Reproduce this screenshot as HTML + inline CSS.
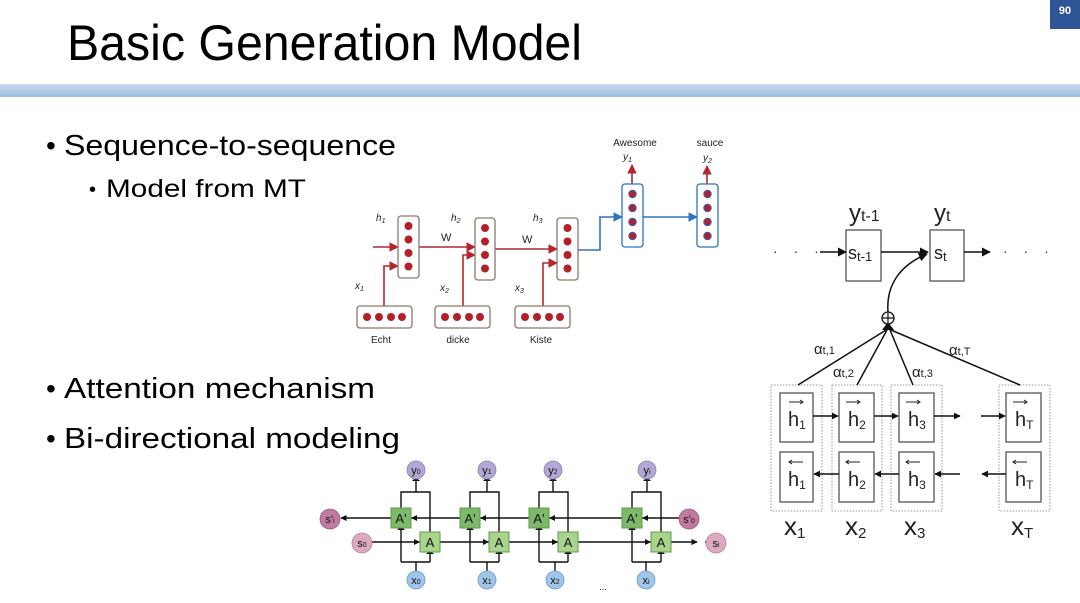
<!DOCTYPE html>
<html><head><meta charset="utf-8"><style>
html,body{margin:0;padding:0;background:#fff;}
svg{display:block;font-family:"Liberation Sans",sans-serif;}
</style></head><body>
<svg width="1080" height="603" viewBox="0 0 1080 603" xmlns="http://www.w3.org/2000/svg">
<defs>
<linearGradient id="bar" x1="0" y1="0" x2="0" y2="1"><stop offset="0" stop-color="#c9daf0"/><stop offset="1" stop-color="#9dbde0"/></linearGradient>
<marker id="ar" viewBox="0 0 10 10" refX="9" refY="5" markerWidth="6" markerHeight="6" orient="auto"><path d="M0,0L10,5L0,10z" fill="#b3262f"/></marker>
<marker id="ab" viewBox="0 0 10 10" refX="9" refY="5" markerWidth="6" markerHeight="6" orient="auto"><path d="M0,0L10,5L0,10z" fill="#2e74c0"/></marker>
<marker id="ak" viewBox="0 0 10 10" refX="9" refY="5" markerWidth="6" markerHeight="6" orient="auto"><path d="M0,0L10,5L0,10z" fill="#111"/></marker>
<marker id="ak2" viewBox="0 0 10 10" refX="9" refY="5" markerWidth="4.5" markerHeight="4.5" orient="auto"><path d="M0,0L10,5L0,10z" fill="#111"/></marker>
</defs>
<rect width="1080" height="603" fill="#fff"/>
<rect x="1050" y="0" width="30" height="29" fill="#2f5597"/>
<text x="1065" y="14" font-size="11" fill="#fff" text-anchor="middle" font-weight="bold">90</text>
<text x="67" y="60" font-size="50" textLength="515" lengthAdjust="spacingAndGlyphs" fill="#000">Basic Generation Model</text>
<rect x="0" y="84" width="1080" height="13" fill="url(#bar)"/>

<g fill="#000">
<text x="46" y="155" font-size="28">•</text>
<text x="64" y="155" font-size="29" textLength="332" lengthAdjust="spacingAndGlyphs">Sequence-to-sequence</text>
<text x="89" y="196" font-size="20">•</text>
<text x="106" y="197" font-size="25" textLength="200" lengthAdjust="spacingAndGlyphs">Model from MT</text>
<text x="46" y="398" font-size="28">•</text>
<text x="64" y="398" font-size="29" textLength="311" lengthAdjust="spacingAndGlyphs">Attention mechanism</text>
<text x="46" y="448" font-size="28">•</text>
<text x="64" y="448" font-size="29" textLength="336" lengthAdjust="spacingAndGlyphs">Bi-directional modeling</text>
</g>

<!-- seq2seq -->
<g stroke="#b3262f" stroke-width="1.6" fill="none">
<line x1="373" y1="247" x2="398" y2="247" marker-end="url(#ar)"/>
<line x1="419" y1="247" x2="475" y2="247" marker-end="url(#ar)"/>
<line x1="495" y1="249" x2="557" y2="249" marker-end="url(#ar)"/>
<polyline points="384,306 384,266 398,266" marker-end="url(#ar)"/>
<polyline points="463,306 463,255 475,255" marker-end="url(#ar)"/>
<polyline points="543,306 543,263 557,263" marker-end="url(#ar)"/>
<line x1="632" y1="184" x2="632" y2="165" marker-end="url(#ar)"/>
<line x1="707" y1="184" x2="707" y2="166" marker-end="url(#ar)"/>
</g>
<g stroke="#2e74c0" stroke-width="1.6" fill="none">
<polyline points="578,250 600,250 600,217 622,217" marker-end="url(#ab)"/>
<line x1="643" y1="217" x2="697" y2="217" marker-end="url(#ab)"/>
</g>
<g stroke="#8a7a6a" stroke-width="1.3" fill="#fff">
<rect x="398" y="216" width="21" height="62" rx="3"/>
<rect x="475" y="218" width="20" height="62" rx="3"/>
<rect x="557" y="218" width="21" height="62" rx="3"/>
<rect x="357" y="306" width="55" height="22" rx="3"/>
<rect x="435" y="306" width="55" height="22" rx="3"/>
<rect x="515" y="306" width="55" height="22" rx="3"/>
</g>
<g stroke="#2e74c0" stroke-width="1.3" fill="#fff">
<rect x="622" y="184" width="21" height="63" rx="3"/>
<rect x="697" y="184" width="21" height="63" rx="3"/>
</g>
<g fill="#b3202a">
<circle cx="408.5" cy="226" r="4"/><circle cx="408.5" cy="239.5" r="4"/><circle cx="408.5" cy="253" r="4"/><circle cx="408.5" cy="266.5" r="4"/>
<circle cx="485" cy="228" r="4"/><circle cx="485" cy="241.5" r="4"/><circle cx="485" cy="255" r="4"/><circle cx="485" cy="268.5" r="4"/>
<circle cx="567.5" cy="228" r="4"/><circle cx="567.5" cy="241.5" r="4"/><circle cx="567.5" cy="255" r="4"/><circle cx="567.5" cy="268.5" r="4"/>
<circle cx="367" cy="317" r="4"/><circle cx="379" cy="317" r="4"/><circle cx="391" cy="317" r="4"/><circle cx="402" cy="317" r="4"/>
<circle cx="445" cy="317" r="4"/><circle cx="457" cy="317" r="4"/><circle cx="469" cy="317" r="4"/><circle cx="480" cy="317" r="4"/>
<circle cx="525" cy="317" r="4"/><circle cx="537" cy="317" r="4"/><circle cx="549" cy="317" r="4"/><circle cx="560" cy="317" r="4"/>
</g>
<g fill="#b3202a" stroke="#4a55a0" stroke-width="1.2">
<circle cx="632.5" cy="194" r="3.6"/><circle cx="632.5" cy="208" r="3.6"/><circle cx="632.5" cy="222" r="3.6"/><circle cx="632.5" cy="236" r="3.6"/>
<circle cx="707.5" cy="194" r="3.6"/><circle cx="707.5" cy="208" r="3.6"/><circle cx="707.5" cy="222" r="3.6"/><circle cx="707.5" cy="236" r="3.6"/>
</g>
<g font-size="10" fill="#222">
<text x="376" y="221" font-style="italic">h<tspan font-size="7" dy="2">1</tspan></text>
<text x="451" y="221" font-style="italic">h<tspan font-size="7" dy="2">2</tspan></text>
<text x="533" y="221" font-style="italic">h<tspan font-size="7" dy="2">3</tspan></text>
<text x="441" y="241" font-size="11">W</text>
<text x="522" y="243" font-size="11">W</text>
<text x="355" y="289" font-style="italic">x<tspan font-size="7" dy="2">1</tspan></text>
<text x="440" y="291" font-style="italic">x<tspan font-size="7" dy="2">2</tspan></text>
<text x="515" y="291" font-style="italic">x<tspan font-size="7" dy="2">3</tspan></text>
<text x="381" y="343" text-anchor="middle">Echt</text>
<text x="458" y="343" text-anchor="middle">dicke</text>
<text x="541" y="343" text-anchor="middle">Kiste</text>
<text x="635" y="146" text-anchor="middle">Awesome</text>
<text x="710" y="146" text-anchor="middle">sauce</text>
<text x="623" y="160" font-style="italic">y<tspan font-size="7" dy="2">1</tspan></text>
<text x="703" y="161" font-style="italic">y<tspan font-size="7" dy="2">2</tspan></text>
</g>

<!-- attention diagram -->
<g fill="none" stroke="#999" stroke-width="1" stroke-dasharray="1.5,1.5">
<rect x="771" y="385" width="51" height="126"/>
<rect x="832" y="385" width="50" height="126"/>
<rect x="891" y="385" width="51" height="126"/>
<rect x="999" y="385" width="51" height="126"/>
</g>
<g fill="#fff" stroke="#555" stroke-width="1.3">
<rect x="846" y="230" width="35" height="51"/>
<rect x="930" y="230" width="34" height="51"/>
<rect x="780" y="393" width="33" height="49"/><rect x="780" y="452" width="33" height="50"/>
<rect x="839" y="393" width="35" height="49"/><rect x="839" y="452" width="35" height="50"/>
<rect x="899" y="393" width="35" height="49"/><rect x="899" y="452" width="35" height="50"/>
<rect x="1006" y="393" width="35" height="49"/><rect x="1006" y="452" width="35" height="50"/>
</g>
<g stroke="#111" stroke-width="1.5" fill="none">
<line x1="820" y1="252" x2="846" y2="252" marker-end="url(#ak)"/>
<line x1="881" y1="252" x2="928" y2="252" marker-end="url(#ak)"/>
<line x1="964" y1="252" x2="990" y2="252" marker-end="url(#ak)"/>
<path d="M888,312 C886,285 900,265 927,254" marker-end="url(#ak)"/>
<line x1="798" y1="385" x2="886" y2="330"/>
<line x1="857" y1="385" x2="887" y2="330"/>
<line x1="913" y1="385" x2="890" y2="330"/>
<line x1="1020" y1="385" x2="891" y2="330"/>
<line x1="813" y1="416" x2="838" y2="416" marker-end="url(#ak2)"/>
<line x1="874" y1="416" x2="898" y2="416" marker-end="url(#ak2)"/>
<line x1="934" y1="416" x2="960" y2="416" marker-end="url(#ak2)"/>
<line x1="981" y1="416" x2="1005" y2="416" marker-end="url(#ak2)"/>
<line x1="839" y1="474" x2="814" y2="474" marker-end="url(#ak2)"/>
<line x1="899" y1="474" x2="875" y2="474" marker-end="url(#ak2)"/>
<line x1="960" y1="474" x2="935" y2="474" marker-end="url(#ak2)"/>
<line x1="1006" y1="474" x2="982" y2="474" marker-end="url(#ak2)"/>
</g>
<path d="M882,330 L894,330 L888,322z" fill="#111"/>
<circle cx="888" cy="318" r="6" fill="#fff" stroke="#111" stroke-width="1.3"/>
<path d="M882,318h12M888,312v12" stroke="#111" stroke-width="1.2"/>
<g fill="#333" font-size="14">
<text x="773" y="256" letter-spacing="6">· · ·</text>
<text x="1003" y="256" letter-spacing="6">· · ·</text>
</g>
<g fill="#222">
<text x="849" y="221" font-size="24">y<tspan font-size="16" dy="0">t-1</tspan></text>
<text x="934" y="221" font-size="24">y<tspan font-size="16">t</tspan></text>
<text x="848" y="259" font-size="18">s<tspan font-size="13" dy="2">t-1</tspan></text>
<text x="934" y="259" font-size="18">s<tspan font-size="13" dy="2">t</tspan></text>
<text x="814" y="354" font-size="15">α<tspan font-size="11">t,1</tspan></text>
<text x="833" y="377" font-size="15">α<tspan font-size="11">t,2</tspan></text>
<text x="912" y="377" font-size="15">α<tspan font-size="11">t,3</tspan></text>
<text x="949" y="355" font-size="15">α<tspan font-size="11">t,T</tspan></text>
<g font-size="20">
<text x="788" y="426">h<tspan font-size="12" dy="3">1</tspan></text>
<text x="848" y="426">h<tspan font-size="12" dy="3">2</tspan></text>
<text x="908" y="426">h<tspan font-size="12" dy="3">3</tspan></text>
<text x="1015" y="426">h<tspan font-size="12" dy="3">T</tspan></text>
<text x="788" y="486">h<tspan font-size="12" dy="3">1</tspan></text>
<text x="848" y="486">h<tspan font-size="12" dy="3">2</tspan></text>
<text x="908" y="486">h<tspan font-size="12" dy="3">3</tspan></text>
<text x="1015" y="486">h<tspan font-size="12" dy="3">T</tspan></text>
</g>
<g font-size="26">
<text x="784" y="535">x<tspan font-size="15" dy="3">1</tspan></text>
<text x="845" y="535">x<tspan font-size="15" dy="3">2</tspan></text>
<text x="904" y="535">x<tspan font-size="15" dy="3">3</tspan></text>
<text x="1011" y="535">x<tspan font-size="15" dy="3">T</tspan></text>
</g>
</g>
<g stroke="#222" stroke-width="1">
<path d="M789,402h14M846,402h14M906,402h14M1013,402h14"/>
<path d="M800,400l3,2l-3,2M857,400l3,2l-3,2M917,400l3,2l-3,2M1024,400l3,2l-3,2" fill="none"/>
<path d="M789,462h14M846,462h14M906,462h14M1013,462h14"/>
<path d="M792,460l-3,2l3,2M849,460l-3,2l3,2M909,460l-3,2l3,2M1016,460l-3,2l3,2" fill="none"/>
</g>

<!-- bidirectional RNN -->
<g stroke="#111" stroke-width="1.4" fill="none">
<line x1="706" y1="542" x2="705" y2="542"/>
<line x1="352" y1="542" x2="697" y2="542" marker-end="url(#ak2)"/>
<line x1="680" y1="518" x2="341" y2="518" marker-end="url(#ak2)"/>
</g>
<g id="cols" stroke="#111" stroke-width="1.4" fill="none">
</g>
<g stroke="#111" stroke-width="1.4" fill="none">
<path d="M416,571V562M401,562H430M401,562V530M430,562V554M401,508V492H430V532M416,492V481"/>
<path d="M487,571V562M470,562H499M470,562V530M499,562V554M470,508V492H499V532M487,492V481"/>
<path d="M555,571V562M539,562H568M539,562V530M568,562V554M539,508V492H568V532M553,492V481"/>
<path d="M646,571V562M632,562H661M632,562V530M661,562V554M632,508V492H661V532M647,492V481"/>
</g>
<g fill="#111">
<path d="M397,530h8l-4,-4zM426,554h8l-4,-4zM412,481h8l-4,-4z"/>
<path d="M466,530h8l-4,-4zM495,554h8l-4,-4zM483,481h8l-4,-4z"/>
<path d="M535,530h8l-4,-4zM564,554h8l-4,-4zM549,481h8l-4,-4z"/>
<path d="M628,530h8l-4,-4zM657,554h8l-4,-4zM643,481h8l-4,-4z"/>
<path d="M420,542l-6,-3v6zM489,542l-6,-3v6zM558,542l-6,-3v6zM651,542l-6,-3v6z"/>
<path d="M411,518l6,-3v6zM480,518l6,-3v6zM549,518l6,-3v6zM642,518l6,-3v6z"/>
</g>
<g stroke="#5f9a4b" stroke-width="1">
<rect x="391" y="508" width="20" height="20" fill="#7cb96a"/>
<rect x="460" y="508" width="20" height="20" fill="#7cb96a"/>
<rect x="529" y="508" width="20" height="20" fill="#7cb96a"/>
<rect x="622" y="508" width="20" height="20" fill="#7cb96a"/>
<rect x="420" y="532" width="20" height="20" fill="#a9d48e"/>
<rect x="489" y="532" width="20" height="20" fill="#a9d48e"/>
<rect x="558" y="532" width="20" height="20" fill="#a9d48e"/>
<rect x="651" y="532" width="20" height="20" fill="#a9d48e"/>
</g>
<g font-size="13" fill="#111" text-anchor="middle">
<text x="401" y="523">A'</text><text x="470" y="523">A'</text><text x="539" y="523">A'</text><text x="632" y="523">A'</text>
<text x="430" y="547">A</text><text x="499" y="547">A</text><text x="568" y="547">A</text><text x="661" y="547">A</text>
</g>
<g stroke="#8a7fb5" stroke-width="0.8" fill="#b4a7d6">
<circle cx="416" cy="470" r="9"/><circle cx="487" cy="470" r="9"/><circle cx="553" cy="470" r="9"/><circle cx="647" cy="470" r="9"/>
</g>
<g stroke="#6f98c8" stroke-width="0.8" fill="#9fc5e8">
<circle cx="416" cy="580" r="9"/><circle cx="487" cy="580" r="9"/><circle cx="555" cy="580" r="9"/><circle cx="646" cy="580" r="9"/>
</g>
<circle cx="330" cy="519" r="10" fill="#c27ba0" stroke="#a05a80" stroke-width="0.8"/>
<circle cx="689" cy="519" r="10" fill="#c27ba0" stroke="#a05a80" stroke-width="0.8"/>
<circle cx="362" cy="543" r="10" fill="#dcaac0" stroke="#b9859d" stroke-width="0.8"/>
<circle cx="716" cy="543" r="10" fill="#dcaac0" stroke="#b9859d" stroke-width="0.8"/>
<g font-size="11" fill="#111" text-anchor="middle">
<text x="416" y="474">y<tspan font-size="7">0</tspan></text><text x="487" y="474">y<tspan font-size="7">1</tspan></text><text x="553" y="474">y<tspan font-size="7">2</tspan></text><text x="647" y="474">y<tspan font-size="7">i</tspan></text>
<text x="416" y="584">x<tspan font-size="7">0</tspan></text><text x="487" y="584">x<tspan font-size="7">1</tspan></text><text x="555" y="584">x<tspan font-size="7">2</tspan></text><text x="646" y="584">x<tspan font-size="7">i</tspan></text>
<text x="330" y="523">s'<tspan font-size="7">i</tspan></text><text x="689" y="523">s'<tspan font-size="7">0</tspan></text>
<text x="362" y="547">s<tspan font-size="7">0</tspan></text><text x="716" y="547">s<tspan font-size="7">i</tspan></text>
<text x="603" y="590" font-size="9">...</text>
</g>
</svg>
</body></html>
